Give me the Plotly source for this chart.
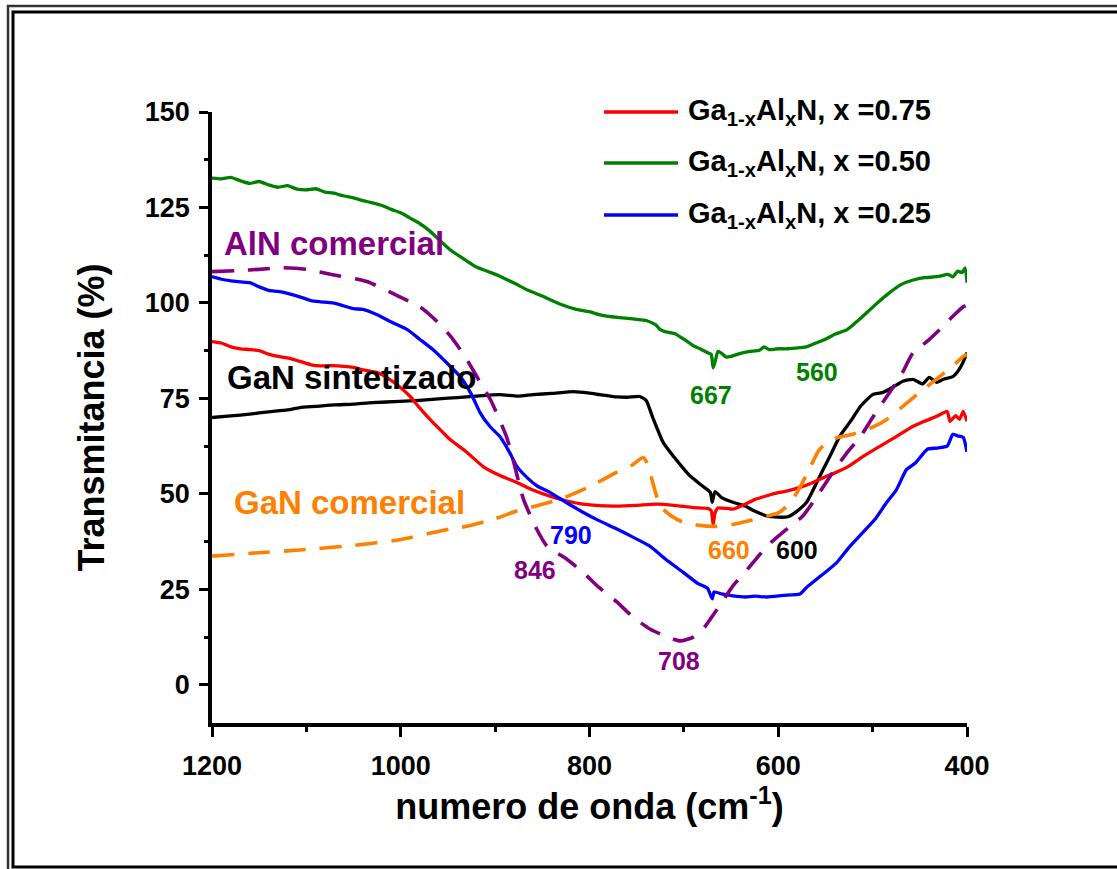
import plotly.graph_objects as go

# ---------------- data ----------------
wn_red = [1200,1190,1180,1170,1160,1150,1140,1130,1120,1107,1095,1085,1072,1060,1050,1040,1025,1015,1001,990,980,966,955,948,930,913,895,877,860,842,825,807,790,771,750,729,710,690,675,671,669,667,664,655,648,635,625,612,600,590,577,563,550,540,527,510,492,475,457,445,432,421,418,412,408,404,400]
t_red = [89.9,89.5,88.5,88.0,87.8,87.5,86.6,86.0,85.6,84.7,83.8,83.5,83.6,83.4,83.1,82.5,81.8,80.5,78.0,75.5,72.5,68.7,66.0,64.3,60.9,57.2,54.8,53.0,51.0,49.4,48.2,47.3,46.9,46.8,47.0,47.3,47.0,46.4,46.2,45.6,42.0,45.0,46.3,46.2,46.0,47.3,48.5,49.5,50.3,50.8,51.7,53.0,54.5,55.5,57.0,59.8,62.5,65.0,67.7,69.0,70.3,71.6,69.0,70.5,69.5,71.6,69.0]

wn_green = [1200,1190,1180,1170,1160,1150,1140,1130,1120,1110,1100,1090,1080,1072,1060,1050,1040,1030,1020,1010,1000,990,980,970,960,948,935,920,905,895,880,865,850,842,830,815,800,789,770,750,740,730,725,720,710,700,690,683,675,671,669,667,664,660,655,650,640,630,620,615,610,600,590,577,570,560,550,540,527,515,506,495,482,470,457,445,435,429,420,415,410,405,402,400]
t_green = [132.7,132.5,132.9,132.0,131.3,131.8,130.9,130.3,130.7,129.8,129.6,129.9,129.0,128.8,128.0,127.5,126.8,126.2,125.5,124.5,123.6,122.2,120.8,119.0,116.7,114.0,111.8,109.4,108.0,107.0,105.2,103.3,101.8,100.9,99.6,98.4,97.7,96.9,96.2,95.7,95.4,94.3,93.0,92.5,92.0,90.5,88.8,88.0,87.0,86.5,83.0,84.5,87.3,86.8,85.8,86.0,86.8,87.3,87.6,88.5,87.8,88.0,88.0,88.3,88.5,89.5,90.5,91.8,93.0,95.5,97.5,100.0,102.7,104.8,106.0,106.6,106.8,107.0,107.5,106.8,108.3,108.0,109.2,105.3]

wn_blue = [1200,1190,1180,1170,1160,1150,1140,1130,1120,1107,1095,1085,1072,1060,1050,1040,1025,1010,993,980,966,950,937,925,916,905,895,885,877,865,855,842,825,807,790,771,755,736,720,701,685,675,670,668,660,648,635,625,612,595,577,570,563,550,538,525,510,497,485,475,464,455,442,432,421,415,410,404,400]
t_blue = [106.9,106.2,105.8,105.5,105.3,104.2,103.3,103.0,102.5,101.6,100.6,100.3,100.0,99.2,98.5,98.3,96.9,95.0,93.0,90.5,87.8,84.0,80.7,76.0,71.3,67.5,65.0,61.0,57.2,54.0,52.0,50.4,47.8,45.2,43.0,40.8,38.8,36.3,33.0,29.5,26.5,25.3,22.5,24.3,23.8,23.3,23.0,23.2,23.0,23.4,23.8,25.5,26.9,29.5,32.0,36.0,40.0,43.5,47.8,51.0,56.4,58.0,61.7,62.0,62.5,65.6,65.2,64.8,61.0]

wn_gan_sint = [1200,1180,1160,1140,1120,1107,1090,1070,1050,1030,1001,980,960,940,920,895,876,860,840,817,800,789,771,760,747,740,733,722,710,700,693,680,672,670,667,660,648,635,625,612,600,590,580,570,556,545,535,522,513,500,490,478,468,457,447,440,432,425,415,410,405,400]
t_gan_sint = [70.0,70.4,70.9,71.5,72.0,72.6,72.9,73.3,73.5,73.9,74.2,74.5,74.9,75.2,75.6,76.0,75.6,76.0,76.3,76.8,76.4,76.0,75.4,75.3,75.5,74.5,70.0,63.5,59.5,56.5,54.6,52.0,50.4,47.8,50.6,49.0,47.8,46.8,45.5,44.2,43.9,44.0,45.5,47.8,54.6,60.0,65.0,69.5,72.9,76.0,76.5,78.0,79.5,80.0,78.8,80.5,79.2,80.0,80.7,82.0,84.0,87.0]

wn_gan_com = [1200,1150,1107,1050,1001,948,930,900,877,850,831,799,771,755,743,738,733,725,712,701,685,665,648,630,612,600,590,580,570,556,540,521,500,485,470,450,430,415,404,400]
t_gan_com = [33.7,34.6,35.3,36.5,38.0,40.8,41.5,43.5,45.5,47.3,48.6,52.0,55.7,57.5,59.5,57.5,53.0,46.8,44.0,42.6,41.8,41.5,42.0,43.0,44.2,45.0,47.0,50.4,55.0,61.7,64.5,65.6,67.5,69.5,72.5,76.6,80.5,83.5,86.0,86.5]

wn_aln = [1200,1170,1150,1125,1100,1072,1036,1001,980,966,948,937,930,913,905,888,880,870,856,845,824,807,790,771,755,736,720,704,690,680,672,660,648,630,612,590,574,560,542,528,513,500,485,470,457,442,429,415,404,400]
t_aln = [108.2,108.5,108.8,109.2,108.8,107.4,105.6,101.6,99.0,96.2,91.5,87.8,85.2,78.0,74.7,65.0,58.0,48.6,40.8,36.3,32.9,29.5,25.5,21.7,18.0,14.6,12.8,11.5,12.5,14.5,17.2,21.5,25.9,31.0,36.3,41.0,44.2,49.0,55.7,60.5,65.0,70.0,75.5,81.0,87.0,90.0,93.0,96.5,99.0,99.5]

legend_names = ["Ga<sub>1-x</sub>Al<sub>x</sub>N, x =0.75",
                "Ga<sub>1-x</sub>Al<sub>x</sub>N, x =0.50",
                "Ga<sub>1-x</sub>Al<sub>x</sub>N, x =0.25"]
x_ticks = [1200, 1000, 800, 600, 400]
y_ticks = [0, 25, 50, 75, 100, 125, 150]

# peak labels: (text, wavenumber, transmittance, colour)
peak_labels = [("667", 671, 75.8, "#008000"), ("560", 559, 82.0, "#008000"),
               ("660", 652, 35.3, "#FF8000"), ("600", 580, 35.3, "#000000"),
               ("790", 820, 39.2, "#0000FF"), ("846", 858, 30.0, "#800080"),
               ("708", 705, 6.3, "#800080")]
# ---------------------------------------

FONT = "Liberation Sans, Arial, sans-serif"
RED, GREEN, BLUE, BLACK, ORANGE, PURPLE = "#FF0000", "#008000", "#0000FF", "#000000", "#FF8000", "#800080"
DASH = "22px,14px"
LW = 3.3

def solid(c):
    return dict(color=c, width=LW, shape="spline", smoothing=0.5)

def dashed(c):
    return dict(color=c, width=3.6, dash=DASH, shape="spline", smoothing=0.6)

fig = go.Figure()
fig.add_trace(go.Scatter(x=wn_gan_sint, y=t_gan_sint, mode="lines", name="GaN sintetizado",
                         line=solid(BLACK), showlegend=False))
fig.add_trace(go.Scatter(x=wn_green, y=t_green, mode="lines", name=legend_names[1],
                         line=solid(GREEN), showlegend=False))
fig.add_trace(go.Scatter(x=wn_red, y=t_red, mode="lines", name=legend_names[0],
                         line=solid(RED), showlegend=False))
fig.add_trace(go.Scatter(x=wn_blue, y=t_blue, mode="lines", name=legend_names[2],
                         line=solid(BLUE), showlegend=False))
fig.add_trace(go.Scatter(x=wn_gan_com, y=t_gan_com, mode="lines", name="GaN comercial",
                         line=dashed(ORANGE), showlegend=False))
fig.add_trace(go.Scatter(x=wn_aln, y=t_aln, mode="lines", name="AlN comercial",
                         line=dashed(PURPLE), showlegend=False))

W, H = 1117, 869
L, R, T, B = 212, 150, 112, 146
pw, ph = W - L - R, H - T - B

def px(x):
    return (x - L) / pw

def py(y):
    return (H - B - y) / ph

shapes = []
annotations = []
# manual legend
leg_colors = [RED, GREEN, BLUE]
leg_rows = [112, 163, 215]
for name, c, yy in zip(legend_names, leg_colors, leg_rows):
    shapes.append(dict(type="line", xref="paper", yref="paper", x0=px(604), x1=px(678),
                       y0=py(yy), y1=py(yy), line=dict(color=c, width=3.3)))
    annotations.append(dict(xref="paper", yref="paper", x=px(686), y=py(yy), text=name,
                            showarrow=False, xanchor="left", yanchor="middle",
                            font=dict(family=FONT, size=29, color="black", weight="bold")))

# curve labels
for txt, xx, yy, c in [("AlN comercial", 1189, 115.5, PURPLE),
                       ("GaN sintetizado", 1186, 80.5, BLACK),
                       ("GaN comercial", 1179, 47.8, ORANGE)]:
    annotations.append(dict(x=xx, y=yy, xref="x", yref="y", text=txt, showarrow=False,
                            xanchor="left", yanchor="middle",
                            font=dict(family=FONT, size=33, color=c, weight="bold")))
for txt, xx, yy, c in peak_labels:
    annotations.append(dict(x=xx, y=yy, xref="x", yref="y", text=txt, showarrow=False,
                            xanchor="center", yanchor="middle",
                            font=dict(family=FONT, size=25, color=c, weight="bold")))

# double frame
shapes.append(dict(type="rect", xref="paper", yref="paper", x0=px(8), x1=px(1126),
                   y0=py(874), y1=py(6), line=dict(color="#333333", width=2.5)))
shapes.append(dict(type="rect", xref="paper", yref="paper", x0=px(13), x1=px(1120),
                   y0=py(867), y1=py(12), line=dict(color="black", width=3)))

fig.update_layout(
    width=W, height=H,
    margin=dict(l=L, r=R, t=T, b=B, autoexpand=False),
    paper_bgcolor="white", plot_bgcolor="white",
    showlegend=False,
    shapes=shapes, annotations=annotations,
    font=dict(family=FONT, color="black"),
    xaxis=dict(range=[1200, 400], tickvals=x_ticks, showgrid=False, zeroline=False,
               showline=True, linecolor="black", linewidth=3.5,
               ticks="outside", ticklen=10, tickwidth=3, tickcolor="black",
               minor=dict(dtick=100, tick0=0, ticks="outside", ticklen=5, tickwidth=3, tickcolor="black"),
               tickfont=dict(family=FONT, size=27, color="black", weight="bold"),
               ticklabelstandoff=6,
               title=dict(text="numero de onda (cm<sup>-1</sup>)", standoff=14,
                          font=dict(family=FONT, size=36, color="black", weight="bold"))),
    yaxis=dict(range=[-10, 150], tickvals=y_ticks, showgrid=False, zeroline=False,
               showline=True, linecolor="black", linewidth=3.5,
               ticks="outside", ticklen=9, tickwidth=3, tickcolor="black",
               minor=dict(dtick=12.5, tick0=0, ticks="outside", ticklen=4, tickwidth=3, tickcolor="black"),
               tickfont=dict(family=FONT, size=27, color="black", weight="bold"),
               ticklabelstandoff=4,
               title=dict(text="Transmitancia (%)", standoff=30,
                          font=dict(family=FONT, size=36, color="black", weight="bold"))),
)

fig.write_html("out.html")
